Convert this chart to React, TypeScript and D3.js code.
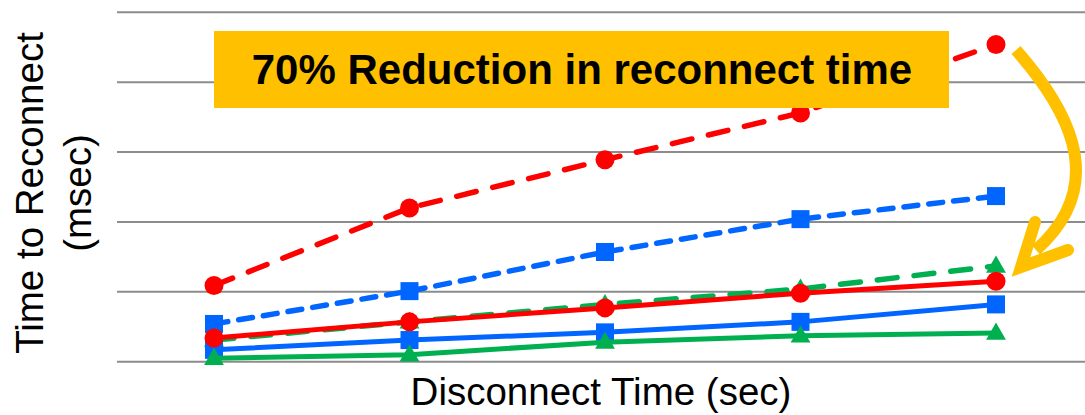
import React from "react";
import * as d3 from "d3";

const categories = ["T1", "T2", "T3", "T4", "T5"];
const yTicks = [0, 1, 2, 3, 4, 5];
const redDashed = [1.09, 2.2, 2.89, 3.56, 4.54];
const blueDashed = [0.54, 1.01, 1.57, 2.04, 2.37];
const greenDashed = [0.31, 0.57, 0.82, 1.04, 1.37];
const blueSolid = [0.17, 0.31, 0.42, 0.57, 0.82];
const greenSolid = [0.05, 0.1, 0.28, 0.37, 0.41];
const redSolid = [0.34, 0.57, 0.77, 0.98, 1.15];

const W = 1085;
const H = 415;

type S = { values: number[]; color: string; dash: string | null; marker: "circle" | "square" | "triangle"; width: number };

const series: S[] = [
  { values: redDashed, color: "#FF0000", dash: "20 17", marker: "circle", width: 5.5 },
  { values: blueDashed, color: "#0066FF", dash: "14 11", marker: "square", width: 5.5 },
  { values: greenDashed, color: "#00B050", dash: "20 17", marker: "triangle", width: 5.5 },
  { values: blueSolid, color: "#0066FF", dash: null, marker: "square", width: 5 },
  { values: greenSolid, color: "#00B050", dash: null, marker: "triangle", width: 5 },
  { values: redSolid, color: "#FF0000", dash: null, marker: "circle", width: 5 },
];

const FONT = "Liberation Sans, Arial, sans-serif";

export default function App() {
  const x = d3.scalePoint<string>().domain(categories).range([214, 996]);
  const y = d3.scaleLinear().domain([0, 5]).range([361.7, 12.3]);
  const line = d3
    .line<number>()
    .x((_, i) => x(categories[i]) as number)
    .y((d) => y(d));
  const tri = d3.symbol().type(d3.symbolTriangle).size(170)();

  return (
    <svg
      width={W}
      height={H}
      style={{ position: "absolute", left: 0, top: 0, background: "#fff" }}
    >
      {yTicks.map((t) => (
        <line key={t} x1={117} x2={W} y1={y(t)} y2={y(t)} stroke="#8c8c8c" strokeWidth={2} />
      ))}
      {series.map((s, si) => (
        <g key={si}>
          <path
            d={line(s.values) || ""}
            fill="none"
            stroke={s.color}
            strokeWidth={s.width}
            strokeDasharray={s.dash || undefined}
            strokeLinecap={s.dash ? "round" : "butt"}
          />
          {s.values.map((v, i) => {
            const cx = x(categories[i]) as number;
            const cy = y(v);
            if (s.marker === "circle") return <circle key={i} cx={cx} cy={cy} r={9.5} fill={s.color} />;
            if (s.marker === "square")
              return <rect key={i} x={cx - 9} y={cy - 9} width={18} height={18} fill={s.color} />;
            return <path key={i} d={tri || ""} transform={`translate(${cx},${cy + 1})`} fill={s.color} />;
          })}
        </g>
      ))}
      <text
        transform="translate(43,193) rotate(-90)"
        textAnchor="middle"
        fontFamily={FONT}
        fontSize={38.5}
        fill="#000"
      >
        Time to Reconnect
      </text>
      <text
        transform="translate(91,193) rotate(-90)"
        textAnchor="middle"
        fontFamily={FONT}
        fontSize={38.5}
        fill="#000"
      >
        (msec)
      </text>
      <text x={601} y={405} textAnchor="middle" fontFamily={FONT} fontSize={38.5} fill="#000">
        Disconnect Time (sec)
      </text>
      <rect x={214} y={31} width={735} height={77} fill="#FFC000" />
      <text
        x={582}
        y={84}
        textAnchor="middle"
        fontFamily={FONT}
        fontWeight="bold"
        fontSize={42}
        fill="#000"
      >
        70% Reduction in reconnect time
      </text>
      <path
        d="M1016,50 C1060,100 1115,180 1036,250"
        fill="none"
        stroke="#FFC000"
        strokeWidth={12}
        strokeLinecap="butt"
      />
      <path
        d="M1035,222 L1021,267 L1068,250"
        fill="none"
        stroke="#FFC000"
        strokeWidth={12}
        strokeLinecap="round"
        strokeLinejoin="miter"
      />
    </svg>
  );
}
